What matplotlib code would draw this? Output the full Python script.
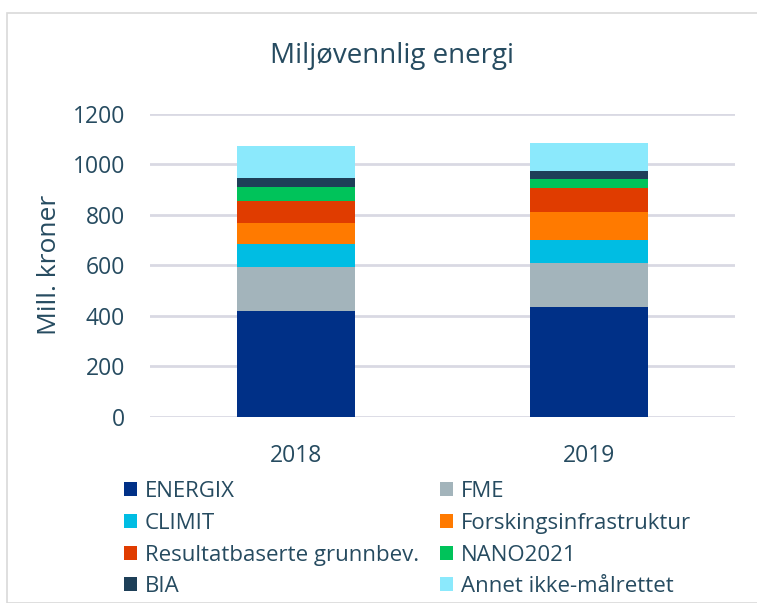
import matplotlib.pyplot as plt
from matplotlib.patches import Rectangle

years = ["2018", "2019"]
series = ["ENERGIX", "FME", "CLIMIT", "Forskingsinfrastruktur",
          "Resultatbaserte grunnbev.", "NANO2021", "BIA", "Annet ikke-målrettet"]
energix = [419, 434]
fme = [174, 175]
climit = [93, 93]
forsk = [82, 108]
resultat = [86, 97]
nano = [56, 33]
bia = [37, 33]
annet = [124, 112]
values = [energix, fme, climit, forsk, resultat, nano, bia, annet]
colors = ["#003087", "#a3b4bb", "#00bde3", "#ff7a00",
          "#e03c00", "#00c35a", "#1e3f58", "#8be9fc"]

txt = "#264b60"
plt.rcParams['font.family'] = ['Open Sans', 'DejaVu Sans']

fig = plt.figure(figsize=(7.57, 6.03), dpi=100)
fig.patches.append(Rectangle((7/757, 0), 1, 1 - 13/603, transform=fig.transFigure,
                             fill=False, edgecolor="#d9d9d9", linewidth=1.2))
ax = fig.add_axes([0.1975, 0.3085, 0.774, 0.5031])

x = range(len(years))
bottom = [0, 0]
handles = []
for name, vals, c in zip(series, values, colors):
    b = ax.bar(x, vals, width=0.40, bottom=bottom, color=c, label=name, zorder=3)
    handles.append(b)
    bottom = [p + q for p, q in zip(bottom, vals)]

ax.set_xlim(-0.5, 1.5)
ax.set_ylim(0, 1200)
ax.set_yticks(range(0, 1201, 200))
ax.set_xticks(list(x))
ax.set_xticklabels(years)
ax.grid(axis="y", color="#d9d9e3", linewidth=2, zorder=0)
for s in ax.spines.values():
    s.set_visible(False)
ax.tick_params(length=0, labelsize=16.5, colors=txt)
ax.tick_params(axis="y", pad=17.5)
ax.tick_params(axis="x", pad=19.5)
ax.set_ylabel("Mill. kroner", fontsize=19, color=txt)
ax.yaxis.set_label_coords(-0.15, 0.5)

fig.text(0.518, 1 - 63/603, "Miljøvennlig energi", ha="center", va="baseline",
         fontsize=20, color=txt)

# two legend columns placed separately
cols = [[0, 2, 4, 6], [1, 3, 5, 7]]
xs = [124/757, 440/757]
for col, xpos in zip(cols, xs):
    leg = fig.legend([handles[i] for i in col], [series[i] for i in col],
                     loc="upper left", bbox_to_anchor=(xpos, 0.202),
                     frameon=False, fontsize=16, handlelength=0.6, handleheight=0.6,
                     handletextpad=0.35, labelspacing=0.48,
                     borderaxespad=0, borderpad=0)
    for t in leg.get_texts():
        t.set_color(txt)

fig.savefig("out.png", dpi=100)
